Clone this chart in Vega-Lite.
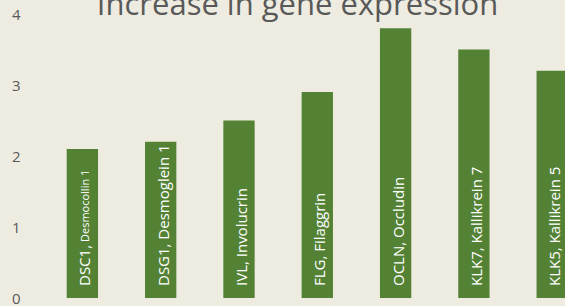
{
  "$schema": "https://vega.github.io/schema/vega-lite/v6.json",
  "autosize": {"type": "none"},
  "padding": {"left": 30, "top": 14, "right": 0, "bottom": 8},
  "width": 535,
  "height": 284,
  "background": "#EEECE1",
  "config": {"view": {"stroke": null}, "font": "Open Sans"},
  "title": {"text": "Increase in gene expression", "font": "Open Sans", "fontSize": 31, "fontWeight": "normal", "color": "#595959", "anchor": "middle", "frame": "group", "dx": 0, "dy": 9, "baseline": "alphabetic", "offset": -30},
  "data": {"values": [
    {"gene": "DSC1", "value": 2.1, "label": "DSC1,", "sub": "Desmocollin 1"},
    {"gene": "DSG1", "value": 2.2, "label": "DSG1, Desmoglein 1", "sub": ""},
    {"gene": "IVL", "value": 2.5, "label": "IVL, Involucrin", "sub": ""},
    {"gene": "FLG", "value": 2.9, "label": "FLG, Filaggrin", "sub": ""},
    {"gene": "OCLN", "value": 3.8, "label": "OCLN, Occludin", "sub": ""},
    {"gene": "KLK7", "value": 3.5, "label": "KLK7, Kallikrein 7", "sub": ""},
    {"gene": "KLK5", "value": 3.2, "label": "KLK5, Kallikrein 5", "sub": ""}
  ]},
  "encoding": {
    "x": {"field": "gene", "type": "nominal", "sort": null, "axis": null,
          "scale": {"range": [0, 574.6], "paddingInner": 0.6, "paddingOuter": 0.469}}
  },
  "layer": [
    {
      "mark": {"type": "bar", "color": "#548235", "clip": true},
      "encoding": {
        "y": {"field": "value", "type": "quantitative", "scale": {"domain": [0, 4], "nice": false},
              "axis": {"title": null, "values": [0, 1, 2, 3, 4], "format": "d", "domain": false, "ticks": false, "grid": false,
                       "labelFontSize": 15, "labelColor": "#595959", "labelPadding": 10, "labelFont": "Open Sans"}}
      }
    },
    {
      "mark": {"type": "text", "angle": 270, "align": "left", "baseline": "alphabetic", "dx": 12, "dy": 8, "fontSize": 15, "color": "white", "font": "Open Sans", "clip": true},
      "encoding": {"y": {"datum": 0, "type": "quantitative"}, "text": {"field": "label"}}
    },
    {
      "mark": {"type": "text", "angle": 270, "align": "left", "baseline": "alphabetic", "dx": 56, "dy": 7, "fontSize": 11, "color": "white", "font": "Open Sans", "clip": true},
      "encoding": {"y": {"datum": 0, "type": "quantitative"}, "text": {"field": "sub"}}
    }
  ]
}
